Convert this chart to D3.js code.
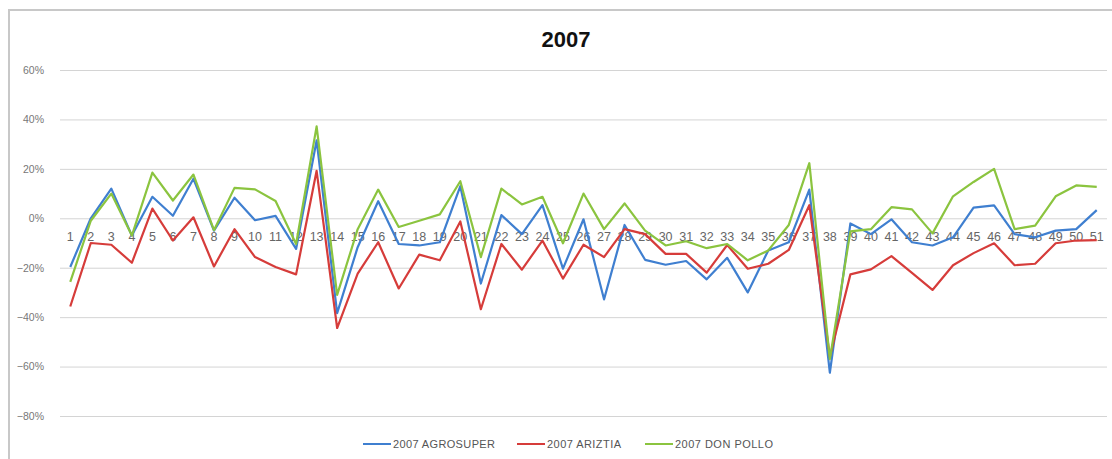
<!DOCTYPE html>
<html>
<head>
<meta charset="utf-8">
<script src="https://cdnjs.cloudflare.com/ajax/libs/d3/7.8.5/d3.min.js"></script>
<style>
  body { margin: 0; background: #fff; }
  svg { display: block; font-family: "Liberation Sans", Arial, sans-serif; }
</style>
</head>
<body>
<svg width="1112" height="459"></svg>
<script>
var weeks = d3.range(1, 52);
var yTicks = [-0.8, -0.6, -0.4, -0.2, 0, 0.2, 0.4, 0.6];
var seriesNames = ["2007 AGROSUPER", "2007 ARIZTIA", "2007 DON POLLO"];
var seriesColors = ["#3f7fd0", "#d63c3a", "#8bc43f"];

// weekly % change
var agrosuper = [-19.7, 0, 12, -7, 8.7, 1, 16, -5, 8.3, -0.8, 1, -12.4, 31.5,
  -38.4, -11.7, 6.9, -10.4, -11, -9.7, 13, -26.4, 1.3, -6.4, 5.3, -20.4, -0.4,
  -32.8, -2.7, -16.8, -18.8, -17.3, -24.7, -16, -30, -13, -9.7, 11.6, -62.5,
  -2.1, -6.4, -0.4, -9.7, -11, -7.7, 4.3, 5.2, -6.4, -7.7, -5, -4.4, 3.3];
var ariztia = [-35.7, -10, -10.7, -18, 3.9, -9, 0.4, -19.5, -4.4, -15.7, -19.7,
  -22.7, 19.2, -44.4, -22.4, -9.7, -28.4, -14.7, -17, -1.3, -36.8, -10.4, -20.8,
  -9, -24.4, -10.7, -15.7, -4.4, -6.4, -14.4, -14.4, -22, -10.8, -20.4, -18.4,
  -12.8, 5.3, -56, -22.7, -20.7, -15.3, -22.1, -29, -19, -14.1, -10.1, -19,
  -18.4, -10.1, -9, -8.8];
var donPollo = [-25.7, -1, 10, -7, 18.5, 7.2, 17.7, -4.8, 12.3, 11.7, 7, -10.4,
  37.2, -31, -4.4, 11.6, -3.5, -1, 1.6, 15, -15.7, 12, 5.6, 8.7, -10.1, 10,
  -4.4, 6, -5, -11, -9.3, -12.1, -10.4, -17, -13, -2.7, 22.3, -57, -5.3, -4.4,
  4.5, 3.6, -6.1, 8.9, 14.7, 20, -4.4, -3, 8.9, 13.3, 12.7];

var series = [agrosuper, ariztia, donPollo];

var svg = d3.select("svg");

// chart frame
svg.append("rect")
    .attr("x", 9).attr("y", 10)
    .attr("width", 1120).attr("height", 480)
    .attr("fill", "none")
    .attr("stroke", "#c8c8c8")
    .attr("stroke-width", 2);

svg.append("text")
    .attr("x", 566).attr("y", 47)
    .attr("text-anchor", "middle")
    .attr("font-size", 22).attr("font-weight", "bold")
    .attr("fill", "#111")
    .text("2007");

var x = d3.scaleBand()
    .domain(weeks)
    .range([60, 1107]);

var y = d3.scaleLinear()
    .domain([-0.8, 0.6])
    .range([416, 70]);

// gridlines
svg.append("g")
    .attr("class", "grid")
    .attr("transform", "translate(60,0)")
    .call(d3.axisLeft(y).tickValues(yTicks).tickSize(-(1107 - 60)).tickFormat(""))
    .call(function (g) { g.select(".domain").remove(); })
    .selectAll("line")
    .attr("stroke", "#d4d4d4");

// y labels
svg.append("g")
    .attr("transform", "translate(47,0)")
    .call(d3.axisLeft(y).tickValues(yTicks).tickSize(0).tickFormat(d3.format(".0%")))
    .call(function (g) { g.select(".domain").remove(); })
    .selectAll("text")
    .attr("font-size", 10.5)
    .attr("fill", "#777")
    .attr("font-family", "'Liberation Sans', Arial, sans-serif");

// category labels sit just under the zero line
svg.append("g")
    .attr("transform", "translate(0," + y(0) + ")")
    .call(d3.axisBottom(x).tickSize(0).tickPadding(14))
    .call(function (g) { g.select(".domain").remove(); })
    .selectAll("text")
    .attr("font-size", 12.5)
    .attr("fill", "#666")
    .attr("font-family", "'Liberation Sans', Arial, sans-serif");

var line = d3.line()
    .x(function (d, i) { return x(weeks[i]) + x.bandwidth() / 2; })
    .y(function (d) { return y(d / 100); });

svg.append("g")
    .selectAll("path")
    .data(series)
    .enter()
    .append("path")
    .attr("fill", "none")
    .attr("stroke", function (d, i) { return seriesColors[i]; })
    .attr("stroke-width", 2.2)
    .attr("stroke-linejoin", "round")
    .attr("d", line);

// legend
var legendX = [363, 517, 645];
var legend = svg.append("g")
    .selectAll("g")
    .data(seriesNames)
    .enter()
    .append("g")
    .attr("transform", function (d, i) { return "translate(" + legendX[i] + ",444)"; });

legend.append("line")
    .attr("x1", 0).attr("x2", 28)
    .attr("stroke", function (d, i) { return seriesColors[i]; })
    .attr("stroke-width", 2);

legend.append("text")
    .attr("x", 30).attr("y", 4)
    .attr("font-size", 11)
    .attr("fill", "#555")
    .attr("textLength", function (d, i) { return [102, 74, 98][i]; })
    .text(function (d) { return d; });
</script>
</body>
</html>
